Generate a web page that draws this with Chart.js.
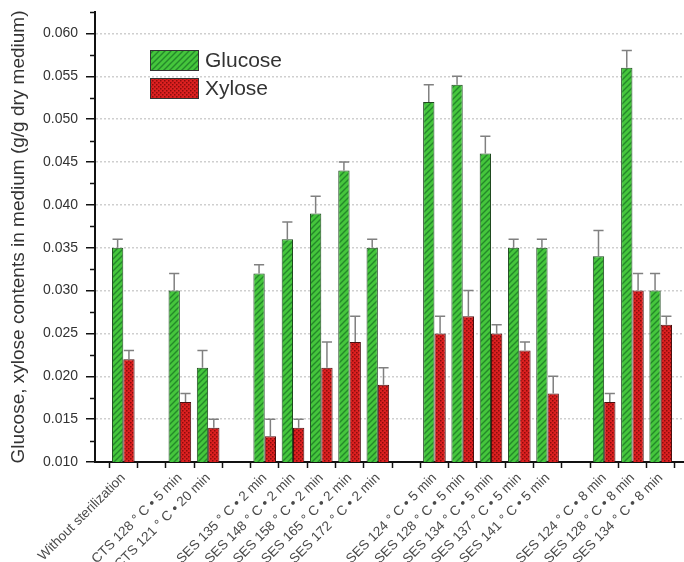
<!DOCTYPE html>
<html>
<head>
<meta charset="utf-8">
<script src="https://cdn.jsdelivr.net/npm/chart.js@4"></script>
<style>
  html, body { margin: 0; padding: 0; background: #fff; overflow: hidden; }
  canvas { display: block; }
</style>
</head>
<body>
<canvas id="chart" width="690" height="562"></canvas>
<script>
// Glucose / xylose released into the medium per sterilization condition
const groups = [
    ['Without sterilization'],
    ['CTS 128 ° C • 5 min', 'CTS 121 ° C • 20 min'],
    ['SES 135 ° C • 2 min', 'SES 148 ° C • 2 min', 'SES 158 ° C • 2 min', 'SES 165 ° C • 2 min', 'SES 172 ° C • 2 min'],
    ['SES 124 ° C • 5 min', 'SES 128 ° C • 5 min', 'SES 134 ° C • 5 min', 'SES 137 ° C • 5 min', 'SES 141 ° C • 5 min'],
    ['SES 124 ° C • 8 min', 'SES 128 ° C • 8 min', 'SES 134 ° C • 8 min']
];

const glucose    = [0.035, 0.030, 0.021, 0.032, 0.036, 0.039, 0.044, 0.035, 0.052, 0.054, 0.046, 0.035, 0.035, 0.034, 0.056, 0.030];
const glucoseErr = [0.001, 0.002, 0.002, 0.001, 0.002, 0.002, 0.001, 0.001, 0.002, 0.001, 0.002, 0.001, 0.001, 0.003, 0.002, 0.002];
const xylose     = [0.022, 0.017, 0.014, 0.013, 0.014, 0.021, 0.024, 0.019, 0.025, 0.027, 0.025, 0.023, 0.018, 0.017, 0.030, 0.026];
const xyloseErr  = [0.001, 0.001, 0.001, 0.002, 0.001, 0.003, 0.003, 0.002, 0.002, 0.003, 0.001, 0.001, 0.002, 0.001, 0.002, 0.001];

const yMin = 0.010;
const yMax = 0.0625;
const yMajor = 0.005;
const yMinor = 0.0025;

const FONT = "'Liberation Sans', Arial, sans-serif";

// category axis: blank slot before, between and after each group
const labels = [''];
groups.forEach(g => {
    g.forEach(name => labels.push(name));
    labels.push('');
});
function spread(values) {
    const out = [null];
    let i = 0;
    groups.forEach(g => {
        g.forEach(() => out.push(values[i++]));
        out.push(null);
    });
    return out;
}

function makePattern(size, base, draw) {
    const c = document.createElement('canvas');
    c.width = size; c.height = size;
    const g = c.getContext('2d');
    g.fillStyle = base;
    g.fillRect(0, 0, size, size);
    draw(g, size);
    return g.createPattern(c, 'repeat');
}

const greenFill = makePattern(6, '#45c63c', (g, s) => {
    g.strokeStyle = '#24882a';
    g.lineWidth = 1.4;
    g.beginPath();
    g.moveTo(0, s); g.lineTo(s, 0);
    g.moveTo(-1, 1); g.lineTo(1, -1);
    g.moveTo(s - 1, s + 1); g.lineTo(s + 1, s - 1);
    g.stroke();
});
const redFill = makePattern(4, '#dc2020', (g) => {
    g.fillStyle = '#8a0d0d';
    g.fillRect(0, 0, 1.5, 1.5);
    g.fillRect(2, 2, 1.5, 1.5);
});

const isMajor = v => Math.abs(Math.round(v / yMajor) * yMajor - v) < 1e-9;

const errorBars = {
    id: 'errorBars',
    afterDatasetsDraw(chart) {
        const ctx = chart.ctx;
        const y = chart.scales.y;
        ctx.save();
        ctx.strokeStyle = '#808080';
        ctx.lineWidth = 1.5;
        chart.data.datasets.forEach((ds, i) => {
            chart.getDatasetMeta(i).data.forEach((bar, j) => {
                const v = ds.data[j];
                if (v == null) return;
                const top = y.getPixelForValue(v + ds.err[j]);
                const half = bar.width * 0.45;
                ctx.beginPath();
                ctx.moveTo(bar.x, bar.y);
                ctx.lineTo(bar.x, top);
                ctx.moveTo(bar.x - half, top);
                ctx.lineTo(bar.x + half, top);
                ctx.stroke();
            });
        });
        ctx.restore();
    }
};

const minorTicks = {
    id: 'minorTicks',
    afterDraw(chart) {
        const ctx = chart.ctx;
        const y = chart.scales.y;
        const left = chart.chartArea.left;
        ctx.save();
        ctx.strokeStyle = '#111';
        ctx.lineWidth = 1.5;
        y.ticks.forEach(t => {
            if (isMajor(t.value)) return;
            const py = Math.round(y.getPixelForValue(t.value)) + 0.5;
            ctx.beginPath();
            ctx.moveTo(left - 5, py);
            ctx.lineTo(left, py);
            ctx.stroke();
        });
        ctx.restore();
    }
};

const boxLegend = {
    id: 'boxLegend',
    afterDraw(chart) {
        const ctx = chart.ctx;
        const x0 = chart.chartArea.left + 55;
        const y0 = chart.chartArea.top + 38;
        ctx.save();
        chart.data.datasets.forEach((ds, i) => {
            const by = y0 + i * 28;
            ctx.fillStyle = ds.backgroundColor;
            ctx.fillRect(x0, by, 48, 20);
            ctx.strokeStyle = '#333';
            ctx.lineWidth = 1;
            ctx.strokeRect(x0 + 0.5, by + 0.5, 48, 20);
            ctx.fillStyle = '#333';
            ctx.font = '21px ' + FONT;
            ctx.textBaseline = 'middle';
            ctx.fillText(ds.label, x0 + 55, by + 11);
        });
        ctx.restore();
    }
};

new Chart(document.getElementById('chart'), {
    type: 'bar',
    data: {
        labels: labels,
        datasets: [
            {
                label: 'Glucose',
                data: spread(glucose),
                err: spread(glucoseErr),
                backgroundColor: greenFill,
                borderColor: '#1f4a1f',
                borderWidth: 1,
                categoryPercentage: 0.8,
                barPercentage: 1
            },
            {
                label: 'Xylose',
                data: spread(xylose),
                err: spread(xyloseErr),
                backgroundColor: redFill,
                borderColor: '#4a1010',
                borderWidth: 1,
                categoryPercentage: 0.8,
                barPercentage: 1
            }
        ]
    },
    options: {
        responsive: false,
        animation: false,
        layout: { padding: { top: 12, right: 1, left: 0, bottom: 0 } },
        plugins: {
            legend: { display: false },
            tooltip: { enabled: false }
        },
        scales: {
            x: {
                offset: false,
                grid: { drawOnChartArea: false, tickLength: 6, tickColor: '#111', tickWidth: 1.5 },
                border: { color: '#111', width: 2 },
                ticks: {
                    autoSkip: false,
                    minRotation: 45,
                    maxRotation: 45,
                    padding: 2,
                    color: '#4a4a4a',
                    font: { family: FONT, size: 13.5 }
                },
                afterFit(scale) {
                    scale.height = 100;
                    scale.paddingLeft = 0;
                    scale.paddingRight = 0;
                }
            },
            y: {
                min: yMin,
                max: yMax,
                ticks: {
                    stepSize: yMinor,
                    padding: 8,
                    color: '#333',
                    font: { family: FONT, size: 14 },
                    callback: v => isMajor(v) ? v.toFixed(3) : ''
                },
                grid: {
                    tickLength: 9,
                    tickWidth: 1.5,
                    tickColor: c => isMajor(c.tick.value) ? '#111' : 'rgba(0,0,0,0)',
                    color: c => (isMajor(c.tick.value) && c.tick.value > yMin + 1e-9) ? '#cfcfcf' : 'rgba(0,0,0,0)',
                    lineWidth: 1.5
                },
                border: { color: '#111', width: 2, dash: [2, 2] },
                title: {
                    display: true,
                    text: 'Glucose, xylose contents in medium (g/g dry medium)',
                    color: '#333',
                    font: { family: FONT, size: 19 },
                    padding: { top: 7, bottom: 0 }
                },
                afterFit(scale) {
                    scale.width = 95;
                    scale.paddingTop = 0;
                    scale.paddingBottom = 0;
                }
            }
        }
    },
    plugins: [errorBars, minorTicks, boxLegend]
});
</script>
</body>
</html>
